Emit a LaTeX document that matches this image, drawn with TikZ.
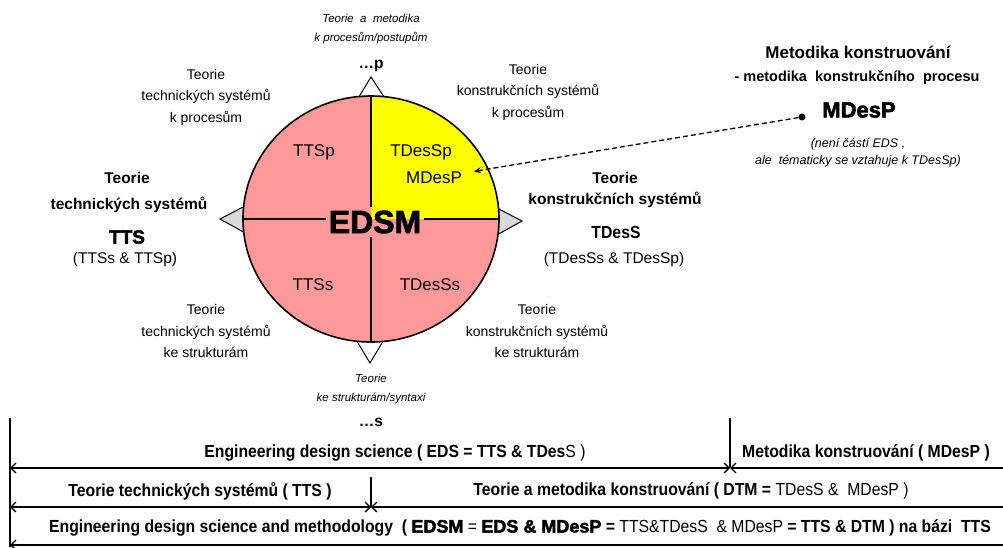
\documentclass[tikz,border=0pt]{standalone}
\usepackage{fontspec}
\setmainfont{Liberation Sans}
\newfontfamily\narrowfont{Liberation Sans}[FakeStretch=0.9]
\newfontfamily\heavyfont{Liberation Sans Bold}[FakeBold=2.5]
\usetikzlibrary{
  arrows.meta,
  shapes.geometric  % ellipse for the disc
}
\definecolor{quad-pink}{RGB}{255,153,153}
\definecolor{quad-yellow}{RGB}{255,255,0}
\definecolor{pointer-gray}{RGB}{217,217,217}
\tikzset{
  every node/.style = {inner sep=0pt},
  lbl/.style = {align=center, font=\fontsize{14}{21.5}\selectfont},
  lbl-it/.style = {align=center, font=\fontsize{11.5}{19}\selectfont\itshape},
  lbl-bf/.style = {font=\fontsize{15.5}{18}\selectfont\bfseries},
  lbl-rm/.style = {font=\fontsize{15.5}{18}\selectfont},
  lbl-heavy/.style = {font=\heavyfont\fontsize{19}{22}\selectfont},
  quad/.style = {font=\fontsize{17}{20}\selectfont},
  row/.style = {font=\narrowfont\fontsize{17.5}{20}\selectfont\bfseries},
  pointer/.style = {draw, line width=1pt, line join=miter},
  disc/.style = {ellipse, draw, line width=1.6pt, fill=quad-pink,
    minimum width=256pt, minimum height=246pt,
    path picture={\fill[quad-yellow] (path picture bounding box.center)
      rectangle (path picture bounding box.north east);}},
  divider/.style = {line width=1.3pt},
  span/.style = {line width=1.3pt, <->, >={Straight Barb[length=5pt,width=10pt]}},
  span-left/.style = {line width=1.3pt, <-, >={Straight Barb[length=5pt,width=10pt]}},
  guide/.style = {line width=1.1pt},
  dot/.style = {circle, fill, minimum size=7pt}
}

\begin{document}
\begin{tikzpicture}[x=1pt, y=-1pt]
\useasboundingbox (0,0) rectangle (1003,547);

% pointers round the disc
\draw[pointer, fill=white] (357,100) -- (371,77) -- (386,100) -- cycle;
\draw[pointer, fill=white] (355,338) -- (370,363) -- (385,338) -- cycle;
\draw[pointer, fill=pointer-gray] (247,205) -- (220,219) -- (247,234) -- cycle;
\draw[pointer, fill=pointer-gray] (495,207) -- (522,221) -- (495,236) -- cycle;

\node[disc] (disc) at (371,219) {};
\node[font=\heavyfont\fontsize{32}{34}\selectfont, inner sep=3pt] (edsm) at (375,222) {EDSM};
\draw[divider] (disc.north) -- (disc.north |- edsm.north);
\draw[divider] (disc.south) -- (disc.south |- edsm.south);
\draw[divider] (disc.west) -- (disc.west -| edsm.west);
\draw[divider] (disc.east) -- (disc.east -| edsm.east);

\node[quad] (ttsp) at (314,152) {TTSp};
\node[quad] (tdessp) at (421,152) {TDesSp};
\node[quad, outer sep=12pt] (mdesp-in) at (434,178) {MDesP};
\node[quad] (ttss) at (313,285) {TTSs};
\node[quad] (tdesss) at (430,285) {TDesSs};

% labels round the disc
\node[lbl-it] (top-it) at (371,29) {Teorie~~a~~metodika\\k procesům/postupům};
\node[lbl-bf] (dots-p) at (371,66) {…p};
\node[lbl] (tl) at (206,97) {Teorie\\technických systémů\\k procesům};
\node[lbl] (tr) at (528,92) {Teorie\\konstrukčních systémů\\k procesům};
\node[lbl] (bl) at (206,331) {Teorie\\technických systémů\\ke strukturám};
\node[lbl] (br) at (537,331) {Teorie\\konstrukčních systémů\\ke strukturám};
\node[lbl-it] (bot-it) at (371,389) {Teorie\\ke strukturám/syntaxi};
\node[lbl-bf] (dots-s) at (371,422) {…s};

\node[lbl-bf] (tts-1) at (127,178) {Teorie};
\node[lbl-bf] (tts-2) at (129,205) {technických systémů};
\node[lbl-heavy] (tts-3) at (127,237) {TTS};
\node[lbl-rm] (tts-4) at (125,259) {(TTSs \& TTSp)};

\node[lbl-bf] (tdes-1) at (615,178) {Teorie};
\node[lbl-bf] (tdes-2) at (615,200) {konstrukčních systémů};
\node[font=\narrowfont\fontsize{17.5}{20}\selectfont\bfseries] (tdes-3) at (616,232) {TDesS};
\node[lbl-rm] (tdes-4) at (614,259) {(TDesSs \& TDesSp)};

\node[font=\fontsize{17}{20}\selectfont\bfseries] (md-1) at (858,52) {Metodika konstruování};
\node[font=\fontsize{14.5}{17}\selectfont\bfseries] (md-2) at (857,78) {- metodika~~konstrukčního~~procesu};
\node[font=\heavyfont\fontsize{22}{24}\selectfont] (md-3) at (859,110) {MDesP};
\node[align=center, font=\fontsize{12.5}{17}\selectfont\itshape] (md-4) at (858,153) {(není částí EDS ,\\ale~~tématicky se vztahuje k TDesSp)};
\node[dot] (md-dot) at (802,117) {};
\draw[line width=1.3pt, dash pattern=on 5pt off 3pt, -{Stealth[length=7pt,width=6pt]}] (md-dot) -- (mdesp-in);

% spans at the bottom
\coordinate (vl-top) at (10,418);
\coordinate (vl-bot) at (10,547);
\coordinate (r1-l) at (10,468);
\coordinate (r1-m) at (730,468);
\coordinate (r1-mt) at (730,418);
\coordinate (r1-r) at (1003,468);
\coordinate (r2-l) at (10,507);
\coordinate (r2-m) at (371,507);
\coordinate (r2-mt) at (371,477);
\coordinate (r2-r) at (1003,507);
\coordinate (r3-l) at (10,545);
\coordinate (r3-r) at (1003,545);

\draw[guide] (vl-top) -- (vl-bot);
\draw[guide] (r1-mt) -- (r1-m);
\draw[guide] (r2-mt) -- (r2-m);
\draw[span] (r1-l) -- (r1-m);
\draw[span-left] (r1-m) -- (r1-r);
\draw[span] (r2-l) -- (r2-m);
\draw[span-left] (r2-m) -- (r2-r);
\draw[span-left] (r3-l) -- (r3-r);

\node[row] (eds) at (395,453) {Engineering design science ( EDS = TTS \& TDes{\mdseries S )}};
\node[row] (mdesp-row) at (866,453) {Metodika konstruování ( MDesP )};
\node[row] (tts-row) at (200,491) {Teorie technických systémů ( TTS )};
\node[row] (dtm-row) at (691,491) {Teorie a metodika konstruování ( DTM = {\mdseries TDesS \&~~MDesP )}};
\node[row] (edsm-row) at (520,528) {Engineering design science and methodology~~( {\heavyfont\fontsize{18}{20}\selectfont EDSM} {\mdseries =} {\heavyfont\fontsize{18}{20}\selectfont EDS \& MDesP} = {\mdseries TTS\&TDesS~~\& MDesP} = TTS \& DTM ) na bázi~~TTS};
\end{tikzpicture}
\end{document}
